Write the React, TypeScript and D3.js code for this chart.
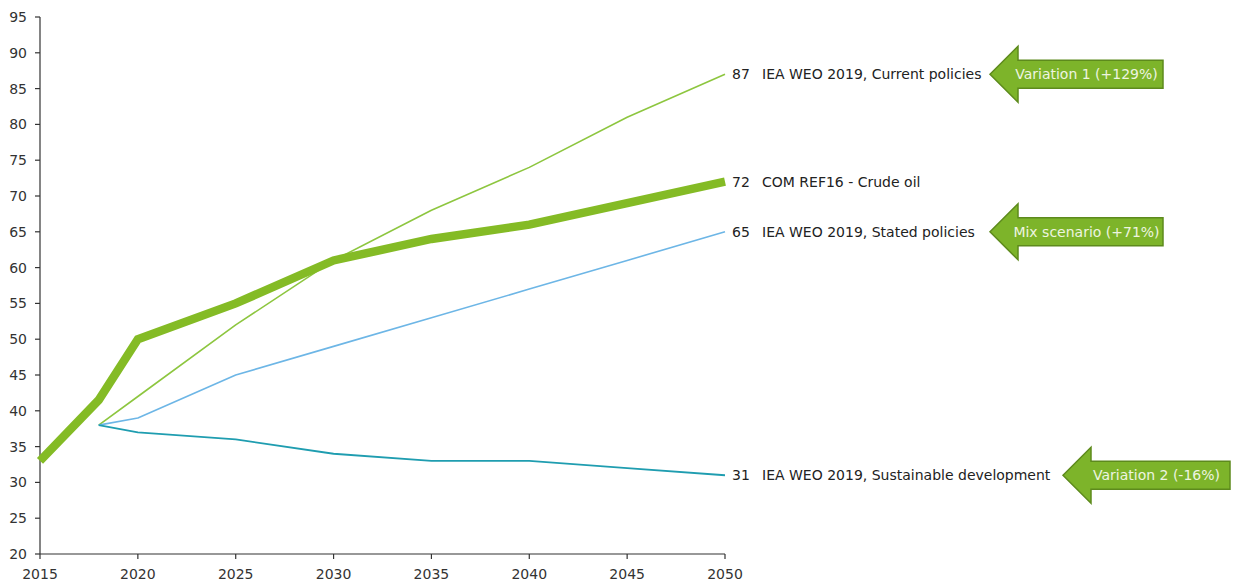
import React from "react";
import * as d3 from "d3";

const crudeYears = [2015, 2018, 2020, 2025, 2030, 2035, 2040, 2045, 2050];
const crudeValues = [33, 41.5, 50, 55, 61, 64, 66, 69, 72];
const scenarioYears = [2018, 2020, 2025, 2030, 2035, 2040, 2045, 2050];
const currentValues = [38, 42, 52, 61, 68, 74, 81, 87];
const statedValues = [38, 39, 45, 49, 53, 57, 61, 65];
const sustainableValues = [38, 37, 36, 34, 33, 33, 32, 31];
const seriesNames = [
  "COM REF16 - Crude oil",
  "IEA WEO 2019, Current policies",
  "IEA WEO 2019, Stated policies",
  "IEA WEO 2019, Sustainable development",
];
const xTicks = [2015, 2020, 2025, 2030, 2035, 2040, 2045, 2050];
const yTicks = [20, 25, 30, 35, 40, 45, 50, 55, 60, 65, 70, 75, 80, 85, 90, 95];
const arrowLabels = ["Variation 1 (+129%)", "Mix scenario (+71%)", "Variation 2 (-16%)"];
const arrowValues = [87, 65, 31];

const FONT = "'DejaVu Sans', Verdana, sans-serif";

export default function App() {
  const W = 1235, H = 583;
  const x = d3.scaleLinear().domain([2015, 2050]).range([40, 725]);
  const y = d3.scaleLinear().domain([20, 95]).range([554, 17]);
  const line = d3.line<[number, number]>().x((d) => x(d[0])).y((d) => y(d[1]));
  const zip = (xs: number[], vs: number[]) => xs.map((v, i) => [v, vs[i]] as [number, number]);

  const thin = [
    { vals: currentValues, color: "#8dc63f", w: 1.6, name: seriesNames[1] },
    { vals: statedValues, color: "#6db6e6", w: 1.6, name: seriesNames[2] },
    { vals: sustainableValues, color: "#1f9db0", w: 1.8, name: seriesNames[3] },
  ];

  const labels = [
    { v: currentValues[currentValues.length - 1], name: seriesNames[1] },
    { v: crudeValues[crudeValues.length - 1], name: seriesNames[0] },
    { v: statedValues[statedValues.length - 1], name: seriesNames[2] },
    { v: sustainableValues[sustainableValues.length - 1], name: seriesNames[3] },
  ];

  const arrowGeo = [
    { tip: 990, right: 1163 },
    { tip: 990, right: 1163 },
    { tip: 1063, right: 1230 },
  ];

  return (
    <div style={{ position: "absolute", left: 0, top: 0 }}>
      <svg width={W} height={H} style={{ display: "block", fontFamily: FONT }}>
        <rect width={W} height={H} fill="#ffffff" />
        <line x1={40} x2={40} y1={y(95)} y2={y(20)} stroke="#333" strokeWidth={1.2} />
        <line x1={40} x2={x(2050)} y1={y(20)} y2={y(20)} stroke="#333" strokeWidth={1.2} />
        {yTicks.map((t) => (
          <g key={"y" + t}>
            <line x1={35} x2={40} y1={y(t)} y2={y(t)} stroke="#333" strokeWidth={1.2} />
            <text x={27} y={y(t)} dy="0.35em" textAnchor="end" fontSize={14} fill="#333">
              {t}
            </text>
          </g>
        ))}
        {xTicks.map((t) => (
          <g key={"x" + t}>
            <line x1={x(t)} x2={x(t)} y1={y(20)} y2={y(20) + 5} stroke="#333" strokeWidth={1.2} />
            <text x={x(t)} y={574} dy="0.35em" textAnchor="middle" fontSize={14} fill="#333">
              {t}
            </text>
          </g>
        ))}
        {thin.map((s) => (
          <path key={s.name} d={line(zip(scenarioYears, s.vals)) || ""} fill="none" stroke={s.color} strokeWidth={s.w} strokeLinejoin="round" />
        ))}
        <path d={line(zip(crudeYears, crudeValues)) || ""} fill="none" stroke="#84bb25" strokeWidth={8.5} strokeLinejoin="miter" />
        {labels.map((l) => (
          <g key={l.name}>
            <text x={732} y={y(l.v)} dy="0.35em" fontSize={14} fill="#222">{l.v}</text>
            <text x={762} y={y(l.v)} dy="0.35em" fontSize={14} fill="#222">{l.name}</text>
          </g>
        ))}
        {arrowLabels.map((lab, i) => {
          const cy = y(arrowValues[i]);
          const { tip, right } = arrowGeo[i];
          const hx = tip + 28;
          const d = `M${tip},${cy} L${hx},${cy - 28} L${hx},${cy - 14} L${right},${cy - 14} L${right},${cy + 14} L${hx},${cy + 14} L${hx},${cy + 28} Z`;
          return (
            <g key={lab}>
              <path d={d} fill="#7db42a" stroke="#5d8a1c" strokeWidth={1.5} strokeLinejoin="miter" />
              <text x={(hx + right) / 2 - 4} y={cy} dy="0.35em" textAnchor="middle" fontSize={14} fill="#eef5e0">
                {lab}
              </text>
            </g>
          );
        })}
      </svg>
    </div>
  );
}
